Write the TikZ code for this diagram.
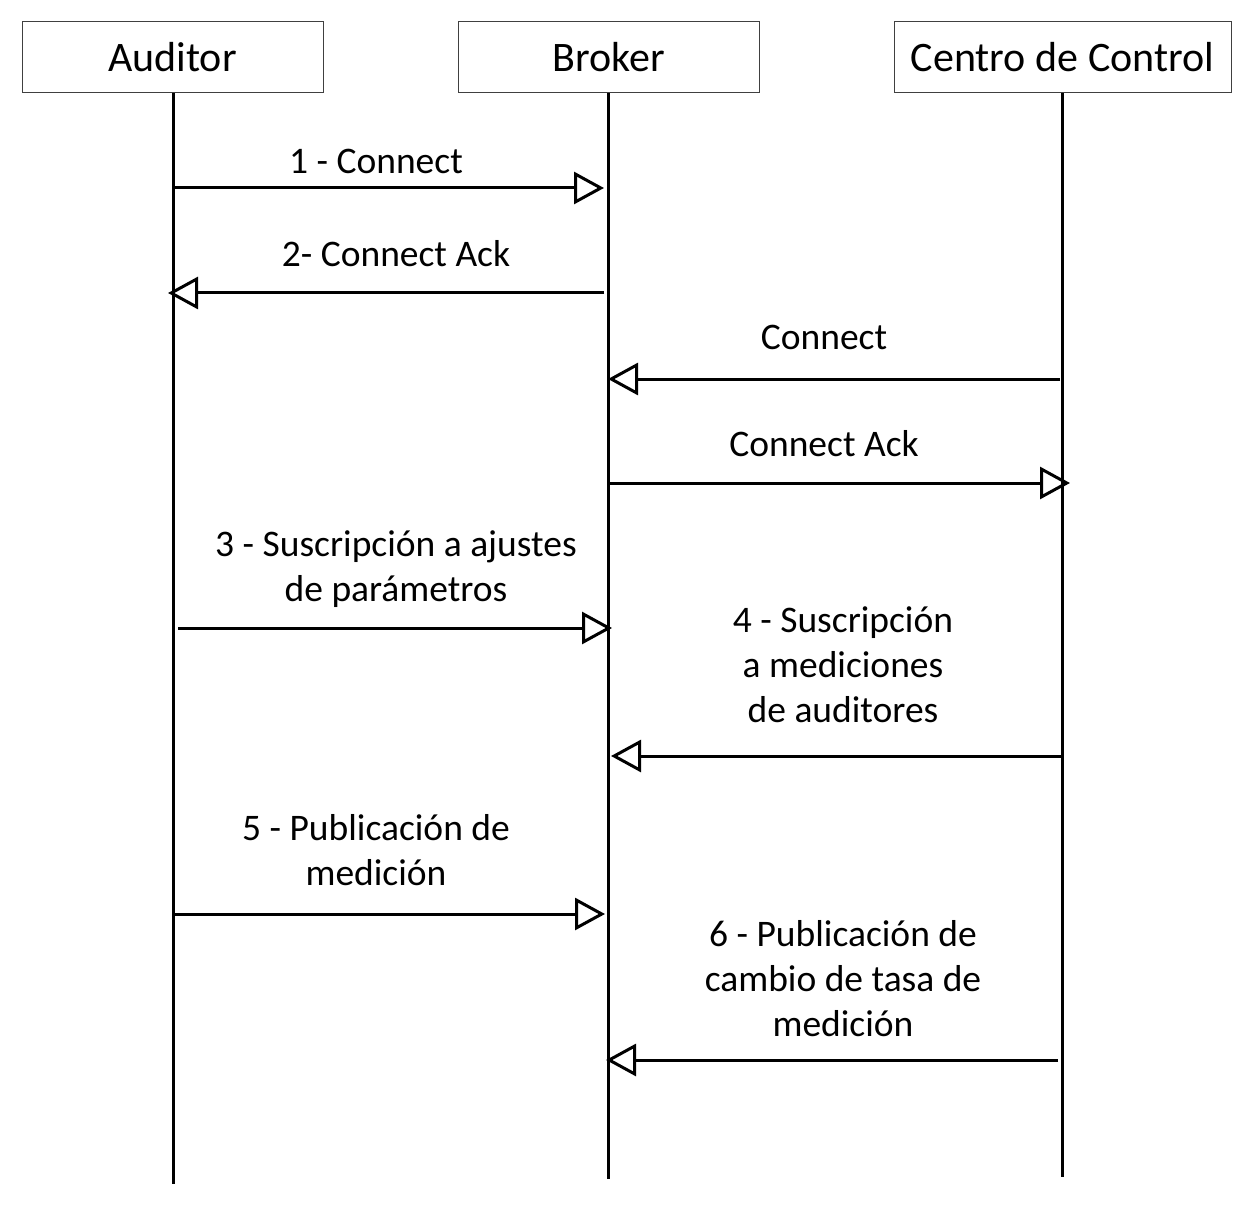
\documentclass[tikz,border=0pt]{standalone}
\usepackage{fontspec}
\setmainfont{Carlito}
\usetikzlibrary{arrows.meta}
\begin{document}
\begin{tikzpicture}[x=1pt,y=-1pt,
  actor/.style={draw=black!75,line width=1pt,minimum height=71pt,inner sep=0pt,font=\fontsize{42}{50}\selectfont},
  life/.style={line width=3pt},
  msg/.style={line width=3pt,-{Triangle[open,length=30pt,width=32pt,line width=3pt]}},
  lbl/.style={font=\fontsize{37.5}{45}\selectfont,align=center,inner sep=0pt}]
\useasboundingbox (0,0) rectangle (1256,1206);
% actors
\node[actor,minimum width=301pt] (A) at (172.5,57.5) {Auditor};
\node[actor,minimum width=301pt] (B) at (608.5,57.5) {Broker};
\node[actor,minimum width=337pt] (C) at (1062.5,57.5) {Centro de Control};
% lifelines ends
\coordinate (Ae) at (173,1184);
\coordinate (Be) at (608,1179);
\coordinate (Ce) at (1062,1177);
\draw[life] (A.south -| Ae) -- (Ae);
\draw[life] (B.south -| Be) -- (Be);
\draw[life] (C.south -| Ce) -- (Ce);
% message endpoints
\coordinate (m1s) at (173,188); \coordinate (m1e) at (604,188);
\coordinate (m2s) at (604,293); \coordinate (m2e) at (168,293);
\coordinate (m3s) at (1060,379); \coordinate (m3e) at (608,379);
\coordinate (m4s) at (608,483); \coordinate (m4e) at (1070,483);
\coordinate (m5s) at (178,628); \coordinate (m5e) at (612,628);
\coordinate (m6s) at (1062,756); \coordinate (m6e) at (611,756);
\coordinate (m7s) at (173,914); \coordinate (m7e) at (605,914);
\coordinate (m8s) at (1058,1060); \coordinate (m8e) at (606,1060);
\draw[msg] (m1s) -- (m1e);
\draw[msg] (m2s) -- (m2e);
\draw[msg] (m3s) -- (m3e);
\draw[msg] (m4s) -- (m4e);
\draw[msg] (m5s) -- (m5e);
\draw[msg] (m6s) -- (m6e);
\draw[msg] (m7s) -- (m7e);
\draw[msg] (m8s) -- (m8e);
% labels
\node[lbl] (l1) at (376,161) {1 - Connect};
\node[lbl] (l2) at (396,254) {2- Connect Ack};
\node[lbl] (l3) at (824,337) {Connect};
\node[lbl] (l4) at (824,444) {Connect Ack};
\node[lbl] (l5) at (396,569) {3 - Suscripción a ajustes\\de parámetros};
\node[lbl] (l6) at (843,665) {4 - Suscripción\\a mediciones\\de auditores};
\node[lbl] (l7) at (376,850) {5 - Publicación de\\medición};
\node[lbl] (l8) at (843,979) {6 - Publicación de\\cambio de tasa de\\medición};
\end{tikzpicture}
\end{document}
